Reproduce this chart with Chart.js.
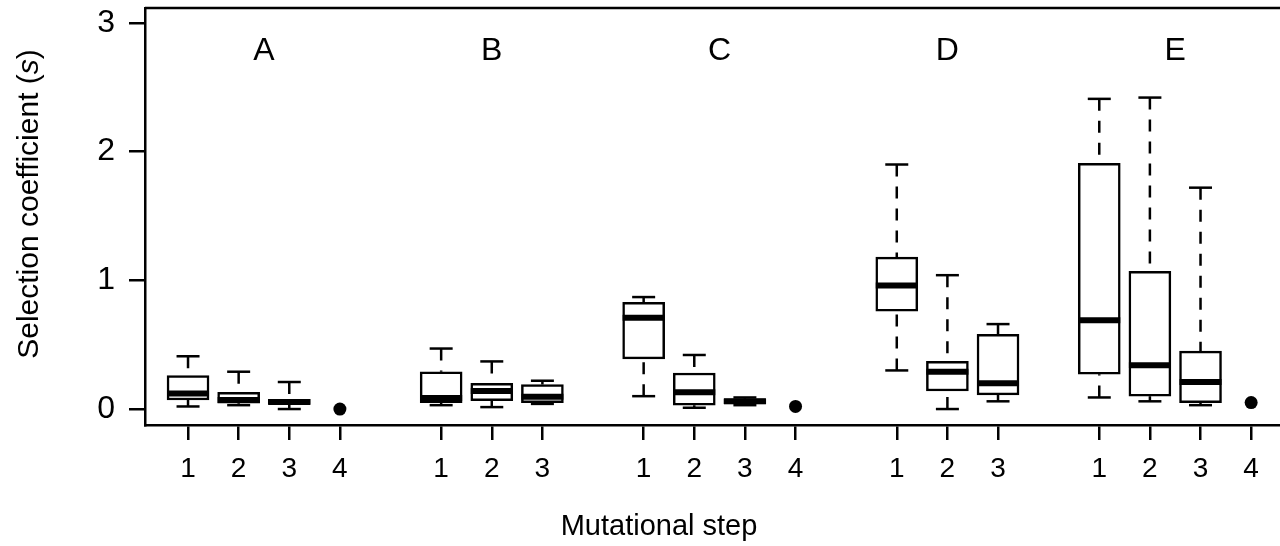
<!DOCTYPE html>
<html>
<head>
<meta charset="utf-8">
<script src="https://cdn.jsdelivr.net/npm/chart.js@4"></script>
<style>
  html, body { margin: 0; padding: 0; background: #fff; }
  #wrap { width: 1280px; height: 546px; }
</style>
</head>
<body>
<div id="wrap"><canvas id="boxChart"></canvas></div>
<script>
// Groups and the x position of every box (steps 1..4, gaps between groups)
const groupNames = ['A', 'B', 'C', 'D', 'E'];
const groupOfBox = ['A', 'A', 'A', 'B', 'B', 'B', 'C', 'C', 'C', 'D', 'D', 'D', 'E', 'E', 'E'];
const boxPositions = [1, 2, 3, 6, 7, 8, 10, 11, 12, 15, 16, 17, 19, 20, 21];

// Box plot statistics
const whiskerLow = [0.02, 0.03, 0.00, 0.03, 0.015, 0.04, 0.10, 0.01, 0.03, 0.30, 0.00, 0.06, 0.09, 0.06, 0.03];
const quartileLow = [0.07, 0.045, 0.035, 0.05, 0.065, 0.05, 0.39, 0.03, 0.04, 0.76, 0.14, 0.11, 0.27, 0.10, 0.05];
const medians = [0.12, 0.07, 0.055, 0.085, 0.14, 0.095, 0.71, 0.13, 0.06, 0.96, 0.29, 0.20, 0.69, 0.34, 0.21];
const quartileHigh = [0.26, 0.13, 0.075, 0.29, 0.20, 0.19, 0.83, 0.28, 0.08, 1.18, 0.37, 0.58, 1.91, 1.07, 0.45];
const whiskerHigh = [0.41, 0.29, 0.21, 0.47, 0.37, 0.22, 0.87, 0.42, 0.09, 1.90, 1.04, 0.66, 2.41, 2.42, 1.72];

// Step 4 has a single value in groups A, C and E
const singlePositions = [4, 13, 22];
const singleValues = [0.00, 0.02, 0.05];

// Tick labels
const tickPositions = [1, 2, 3, 4, 6, 7, 8, 10, 11, 12, 13, 15, 16, 17, 19, 20, 21, 22];
const tickLabels = ['1', '2', '3', '4', '1', '2', '3', '1', '2', '3', '4', '1', '2', '3', '1', '2', '3', '4'];
const yTicks = [0, 1, 2, 3];

const FONT = 'Liberation Sans, Arial, Helvetica, sans-serif';

// Build the datasets from the arrays
const boxData = boxPositions.map((x, i) => ({ x: x, y: [quartileLow[i], quartileHigh[i]] }));
const medianData = boxPositions.map((x, i) => ({ x: x, y: medians[i] }));
const capData = [];
const whiskerData = [];
boxPositions.forEach((x, i) => {
    capData.push({ x: x, y: whiskerLow[i] });
    capData.push({ x: x, y: whiskerHigh[i] });
    // whiskers run from the cap to the box edge
    whiskerData.push({ x: x, y: whiskerHigh[i] });
    whiskerData.push({ x: x, y: quartileHigh[i] });
    whiskerData.push({ x: x, y: null });
    whiskerData.push({ x: x, y: whiskerLow[i] });
    whiskerData.push({ x: x, y: quartileLow[i] });
    whiskerData.push({ x: x, y: null });
});
const singleData = singlePositions.map((x, i) => ({ x: x, y: singleValues[i] }));

// Top frame line, group letters and the two axis titles
const framePlugin = {
    id: 'frame',
    afterDraw(chart) {
        const { ctx, chartArea, scales } = chart;
        ctx.save();
        ctx.strokeStyle = '#000';
        ctx.lineWidth = 2.5;
        ctx.beginPath();
        ctx.moveTo(chartArea.left, chartArea.top);
        ctx.lineTo(chartArea.right, chartArea.top);
        ctx.stroke();

        ctx.fillStyle = '#000';
        ctx.font = '32px ' + FONT;
        ctx.textAlign = 'center';
        ctx.textBaseline = 'middle';
        groupNames.forEach(g => {
            const xs = tickPositions.filter(p => {
                const idx = boxPositions.indexOf(p);
                if (idx >= 0) return groupOfBox[idx] === g;
                return groupOfBox[boxPositions.indexOf(p - 1)] === g;
            });
            const center = (Math.min(...xs) + Math.max(...xs)) / 2;
            ctx.fillText(g, scales.x.getPixelForValue(center), scales.y.getPixelForValue(2.78));
        });

        // x title
        ctx.font = '29px ' + FONT;
        ctx.textBaseline = 'alphabetic';
        ctx.fillText('Mutational step', 659, 535);

        // y title with italic s
        const parts = [['Selection coefficient (', ''], ['s', 'italic '], [')', '']];
        const widths = parts.map(p => { ctx.font = p[1] + '30px ' + FONT; return ctx.measureText(p[0]).width; });
        const total = widths.reduce((a, b) => a + b, 0);
        ctx.translate(38, 204);
        ctx.rotate(-Math.PI / 2);
        ctx.textAlign = 'left';
        let x0 = -total / 2;
        parts.forEach((p, i) => {
            ctx.font = p[1] + '30px ' + FONT;
            ctx.fillText(p[0], x0, 0);
            x0 += widths[i];
        });
        ctx.restore();
    }
};

const ctx = document.getElementById('boxChart').getContext('2d');
const boxChart = new Chart(ctx, {
    type: 'bar',
    data: {
        datasets: [
            {
                type: 'line',
                data: whiskerData,
                borderColor: '#000',
                borderWidth: 2.5,
                borderDash: [12, 10],
                pointRadius: 0,
                spanGaps: false,
                order: 4
            },
            {
                type: 'bar',
                data: boxData,
                backgroundColor: '#fff',
                borderColor: '#000',
                borderWidth: 2.5,
                borderSkipped: false,
                barThickness: 42,
                order: 3
            },
            {
                type: 'line',
                data: medianData,
                showLine: false,
                pointStyle: 'line',
                pointRadius: 21,
                pointBorderWidth: 6,
                pointBorderColor: '#000',
                order: 2
            },
            {
                type: 'line',
                data: capData,
                showLine: false,
                pointStyle: 'line',
                pointRadius: 11.5,
                pointBorderWidth: 2.5,
                pointBorderColor: '#000',
                order: 1
            },
            {
                type: 'line',
                data: singleData,
                showLine: false,
                pointStyle: 'circle',
                pointRadius: 6.5,
                pointBackgroundColor: '#000',
                pointBorderColor: '#000',
                pointBorderWidth: 0,
                order: 1
            }
        ]
    },
    options: {
        responsive: true,
        maintainAspectRatio: false,
        animation: false,
        events: [],
        layout: { autoPadding: false, padding: { top: 8, left: 0, right: 0, bottom: 0 } },
        plugins: {
            legend: { display: false },
            tooltip: { enabled: false }
        },
        scales: {
            x: {
                type: 'linear',
                min: 0.15,
                max: 22.57,
                offset: false,
                afterBuildTicks: scale => { scale.ticks = tickPositions.map(v => ({ value: v })); },
                afterFit: scale => {
                    scale.height = 121;
                    scale.paddingLeft = 0;
                    scale.paddingRight = 0;
                },
                grid: { offset: false, drawOnChartArea: false, drawTicks: true, tickLength: 15, color: '#000', lineWidth: 2.5 },
                border: { display: true, color: '#000', width: 2.5 },
                ticks: {
                    autoSkip: false,
                    maxRotation: 0,
                    padding: 12,
                    color: '#000',
                    font: { family: FONT, size: 28 },
                    callback: value => tickLabels[tickPositions.indexOf(value)]
                }
            },
            y: {
                type: 'linear',
                min: -0.124,
                max: 3.116,
                afterBuildTicks: scale => { scale.ticks = yTicks.map(v => ({ value: v })); },
                afterFit: scale => {
                    scale.width = 145;
                    scale.paddingTop = 0;
                    scale.paddingBottom = 0;
                },
                grid: { drawOnChartArea: false, drawTicks: true, tickLength: 16, color: '#000', lineWidth: 2.5 },
                border: { display: true, color: '#000', width: 2.5 },
                ticks: {
                    padding: 14,
                    color: '#000',
                    font: { family: FONT, size: 32 },
                    callback: value => String(value)
                }
            }
        }
    },
    plugins: [framePlugin]
});
</script>
</body>
</html>
